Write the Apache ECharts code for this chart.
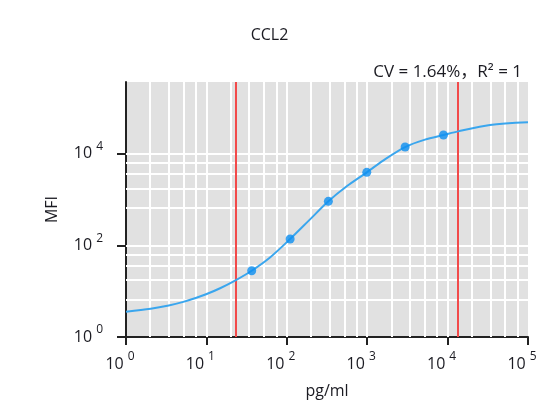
<!DOCTYPE html>
<html><head><meta charset="utf-8">
<script src="https://cdn.jsdelivr.net/npm/echarts@6/dist/echarts.min.js"></script>
<style>html,body{margin:0;padding:0;background:#fff}#c{width:539px;height:403px}</style>
</head><body><div id="c"></div>
<script>
// ---- data ----
const chartTitle = 'CCL2';
const statsText = 'CV = 1.64%，R² = 1';
const xName = 'pg/ml';
const yName = 'MFI';
// standards (measured points)
const stdConc = [36.6, 110, 329, 988, 2963, 8889];
const stdMFI = [28, 138, 918, 3945, 14070, 25700];
// fitted curve
const curveConc = [1, 2.03, 3.4, 5.16, 7.36, 9.9, 14.8, 23.3, 36.6, 61.8, 110, 189, 329, 561, 988, 1714, 2963, 5236, 8889, 13460, 33700, 100000];
const curveMFI = [3.57, 4.15, 4.89, 5.85, 7.09, 8.56, 11.6, 17.5, 28, 54.5, 138, 352, 918, 1980, 3945, 7870, 14070, 20400, 25700, 30900, 42600, 48700];
// detection limits (red lines)
const limitConc = [23.4, 13470];
// axis ticks
const xTicks = [1, 10, 100, 1000, 10000, 100000];
const yTicks = [1, 100, 10000];
// grid lines
const xGridLines = [2, 3.4, 5.2, 7.4, 10, 20, 34, 52, 74, 100, 200, 340, 520, 740, 1000, 2000, 3400, 5200, 7400, 10000, 20000, 34000, 52000, 74000];
const yGridLines = [6.6, 17.8, 36, 63, 100, 660, 1700, 3600, 6300, 10000];

const FONT = '"Open Sans", "Noto Sans CJK SC", sans-serif';
const TXT = '#1b1b22';

function expLabel(v) {
  return '{b|10}{e|' + Math.round(Math.log10(v)) + '}';
}
const richLab = {
  b: { fontSize: 16, color: TXT, fontFamily: FONT, lineHeight: 26 },
  e: { fontSize: 12, color: TXT, fontFamily: FONT, lineHeight: 10, verticalAlign: 'top', padding: [0, 0, 0, 4] }
};

const chart = echarts.init(document.getElementById('c'), null, { renderer: 'canvas' });
chart.setOption({
  animation: false,
  backgroundColor: '#fff',
  title: [
    { text: chartTitle, left: 'center', top: 22, textStyle: { fontSize: 16, fontWeight: 'normal', color: TXT, fontFamily: FONT } },
    { text: statsText, right: 12, top: 59, textStyle: { fontSize: 17, fontWeight: 'normal', color: TXT, fontFamily: FONT } }
  ],
  grid: { left: 126, right: 11, top: 82, bottom: 66, show: true, backgroundColor: '#e1e1e1', borderWidth: 0, containLabel: false, outerBoundsMode: 'none' },
  xAxis: {
    type: 'log', logBase: 10, min: 1, max: 100000,
    name: xName, nameLocation: 'middle', nameGap: 46,
    nameTextStyle: { fontSize: 16, color: TXT, fontFamily: FONT },
    axisLine: { show: true, lineStyle: { color: '#222', width: 2 } },
    axisTick: { show: true, length: 8, lineStyle: { color: '#222', width: 2 } },
    splitLine: { show: false },
    axisLabel: { formatter: expLabel, rich: richLab, margin: 14, padding: [0, 12, 0, 0], customValues: xTicks }
  },
  yAxis: {
    type: 'log', logBase: 100, min: 1, max: 370000,
    name: yName, nameLocation: 'middle', nameGap: 66,
    nameTextStyle: { fontSize: 16, color: TXT, fontFamily: FONT },
    axisLine: { show: true, lineStyle: { color: '#222', width: 2 } },
    axisTick: { show: true, length: 9, lineStyle: { color: '#222', width: 2 }, customValues: yTicks },
    splitLine: { show: false },
    axisLabel: { formatter: expLabel, rich: richLab, margin: 23, align: 'right', customValues: yTicks }
  },
  series: [
    {
      name: 'grid', type: 'line', data: [], z: 1, silent: true,
      markLine: {
        z: 1, silent: true, symbol: 'none', label: { show: false }, animation: false,
        lineStyle: { color: '#ffffff', width: 2, type: 'solid' },
        emphasis: { disabled: true },
        data: xGridLines.map(v => ({ xAxis: v })).concat(yGridLines.map(v => ({ yAxis: v })))
      }
    },
    {
      name: 'limits', type: 'line', data: [], z: 2, silent: true,
      markLine: {
        z: 2, silent: true, symbol: 'none', label: { show: false }, animation: false,
        lineStyle: { color: '#f24a4a', width: 2, type: 'solid' },
        emphasis: { disabled: true },
        data: limitConc.map(v => ({ xAxis: v }))
      }
    },
    {
      name: 'fit', type: 'line', z: 3, smooth: 0.3, showSymbol: false,
      lineStyle: { color: '#3aa6ee', width: 2 },
      data: curveConc.map((c, i) => [c, curveMFI[i]])
    },
    {
      name: 'standards', type: 'scatter', z: 4, symbolSize: 9,
      itemStyle: { color: '#0d8ef0' },
      data: stdConc.map((c, i) => [c, stdMFI[i]])
    }
  ]
});
</script>
</body></html>
